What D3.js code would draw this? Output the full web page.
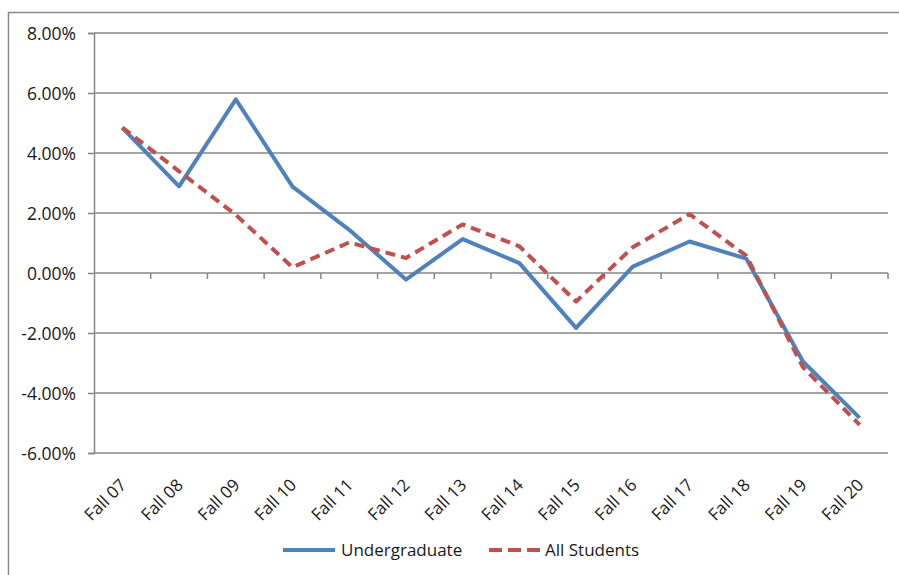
<!DOCTYPE html>
<html><head><meta charset="utf-8">
<script src="https://cdn.jsdelivr.net/npm/d3@7"></script>
<style>body{margin:0;background:#fff}svg{display:block}text{font-family:"Open Sans",sans-serif;fill:#1a1a1a}</style>
</head><body><svg id="c" width="899" height="575"></svg>
<script>
const categories = ["Fall 07","Fall 08","Fall 09","Fall 10","Fall 11","Fall 12","Fall 13","Fall 14","Fall 15","Fall 16","Fall 17","Fall 18","Fall 19","Fall 20"];
const undergraduate = [4.84, 2.89, 5.79, 2.88, 1.44, -0.22, 1.13, 0.33, -1.83, 0.21, 1.05, 0.48, -2.95, -4.83];
const allStudents = [4.85, 3.39, 1.94, 0.19, 1.02, 0.50, 1.62, 0.89, -0.95, 0.86, 1.96, 0.58, -3.14, -5.06];
const yTicks = [8, 6, 4, 2, 0, -2, -4, -6];
const seriesNames = ["Undergraduate", "All Students"];

const svg = d3.select("#c");
const L = 94, R = 888, T = 33, B = 453;
const x = d3.scaleBand().domain(categories).range([L, R]);
const y = d3.scaleLinear().domain([-6, 8]).range([B, T]);

// outer border (top + left visible)
svg.append("path").attr("d", "M8.5,575 V12.5 H899").attr("fill","none").attr("stroke","#8a8a8a").attr("stroke-width",1.5);

const yAxis = d3.axisLeft(y).tickValues(yTicks).tickSize(6).tickFormat(d => d.toFixed(2) + "%");
const gy = svg.append("g").attr("transform", `translate(${L},0)`).call(yAxis);
gy.select(".domain").attr("stroke","#868686").attr("stroke-width",1.5);
gy.selectAll(".tick line").attr("stroke","#868686").attr("stroke-width",1.5);
gy.selectAll(".tick text").attr("x",-18).attr("dy","0.36em").attr("font-size",17.5).attr("fill","#1a1a1a").style("font-family","'Open Sans',sans-serif");
svg.append("g").selectAll("line").data(yTicks).join("line")
  .attr("x1", L).attr("x2", R).attr("y1", d => y(d)).attr("y2", d => y(d))
  .attr("stroke","#868686").attr("stroke-width",1.5);

// x axis ticks at category boundaries
const bounds = categories.map(c => x(c) + x.bandwidth());
svg.append("g").selectAll("line").data(bounds).join("line")
  .attr("x1", d => d).attr("x2", d => d).attr("y1", y(0)).attr("y2", y(0) + 6)
  .attr("stroke","#868686").attr("stroke-width",1.5);

// x labels
svg.append("g").selectAll("text").data(categories).join("text")
  .attr("transform", d => `translate(${x(d) + x.bandwidth()/2 + 5},${486}) rotate(-45)`)
  .attr("text-anchor","end").attr("font-size",17).text(d => d);

const line = d3.line().x((d, i) => x(categories[i]) + x.bandwidth()/2).y(d => y(d));
svg.append("path").datum(undergraduate).attr("d", line).attr("fill","none")
  .attr("stroke","#4F81BD").attr("stroke-width",4).attr("stroke-linejoin","round");
svg.append("path").datum(allStudents).attr("d", line).attr("fill","none")
  .attr("stroke","#C0504D").attr("stroke-width",4).attr("stroke-dasharray","10,6").attr("stroke-linejoin","round");

// legend
const lg = svg.append("g");
lg.append("line").attr("x1",283).attr("x2",335).attr("y1",550).attr("y2",550).attr("stroke","#4F81BD").attr("stroke-width",4);
lg.append("text").attr("x",341).attr("y",556).attr("font-size",17).text(seriesNames[0]);
lg.append("line").attr("x1",489).attr("x2",541).attr("y1",550).attr("y2",550).attr("stroke","#C0504D").attr("stroke-width",4).attr("stroke-dasharray","13,6");
lg.append("text").attr("x",545).attr("y",556).attr("font-size",17).text(seriesNames[1]);
</script></body></html>
